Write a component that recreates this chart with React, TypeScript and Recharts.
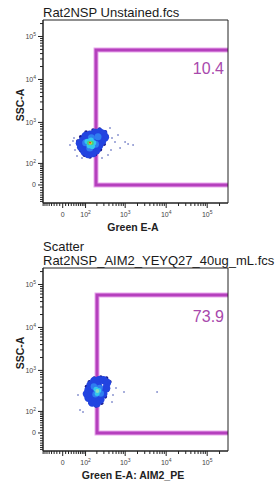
import React from 'react';
import { ScatterChart, Scatter, XAxis, YAxis, ReferenceArea } from 'recharts';

// ---- axis transform (biexponential-like display scale) ----
const X_COFACTOR = 60;
const Y_COFACTOR = 70;
const xDomain: [number, number] = [-0.48, 4.03];
const yDomain: [number, number] = [-0.42, 3.84];

const majorTickValues = [0, 100, 1000, 10000, 100000];
const xMinorTickValues = [
  -80, -70, -60, -50, -40, -30, -20, -10,
  10, 20, 30, 40, 50, 60, 70, 80, 90,
  200, 300, 400, 500, 600, 700, 800, 900,
  2000, 3000, 4000, 5000, 6000, 7000, 8000, 9000,
  20000, 30000, 40000, 50000, 60000, 70000, 80000, 90000,
  200000,
];
const yMinorTickValues = [
  -70, -60, -50, -40, -30, -20, -10,
  10, 20, 30, 40, 50, 60, 70, 80, 90,
  200, 300, 400, 500, 600, 700, 800, 900,
  2000, 3000, 4000, 5000, 6000, 7000, 8000, 9000,
  20000, 30000, 40000, 50000, 60000, 70000, 80000, 90000,
  200000,
];

// ---- panel texts ----
const panel1Title = ['Rat2NSP  Unstained.fcs'];
const panel2Title = ['Scatter', 'Rat2NSP_AIM2_YEYQ27_40ug_mL.fcs'];
const panel1XLabel = 'Green E-A';
const panel2XLabel = 'Green E-A: AIM2_PE';
const yLabel = 'SSC-A';
const gatePercents = ['10.4', '73.9'];

// ---- gates (display units) ----
const panel1Gate = { x1: 0.812, x2: 4.25, y1: 0, y2: 3.14 };
const panel2Gate = { x1: 0.837, x2: 4.25, y1: 0, y2: 3.21 };

// ---- events, display units [Green, SSC] ----
const p1Blue = [
  [0.49, 1.03], [0.56, 1.14], [0.666, 1.17], [0.788, 1.21], [0.90, 1.23],
  [0.99, 1.19], [1.03, 1.11], [0.96, 1.02], [0.89, 0.92], [0.82, 0.81],
  [0.73, 0.74], [0.62, 0.72], [0.53, 0.78], [0.45, 0.88], [0.42, 0.97],
  [0.568, 0.930], [0.715, 0.860], [0.812, 1.047], [0.617, 1.070], [0.715, 1.093],
  [0.885, 1.116],
];
const p1Edge = [
  [0.39, 0.91], [0.44, 0.80], [0.53, 0.69], [0.666, 0.65], [0.80, 0.71],
  [0.92, 0.82], [1.01, 0.95], [1.08, 1.13], [1.04, 1.24], [0.90, 1.30],
  [0.74, 1.28], [0.57, 1.23], [0.44, 1.12], [0.37, 1.02],
];
const p1Mid = [[0.56, 0.98], [0.70, 1.10], [0.80, 0.95], [0.66, 0.86], [0.86, 1.12]];
const p1Cyan = [[0.60, 1.01], [0.69, 1.04], [0.75, 0.98], [0.65, 0.92], [0.72, 0.90]];
const p1Green = [[0.645, 0.977], [0.705, 0.977]];
const p1Yellow = [[0.672, 0.977]];
const p1Red = [[0.666, 0.985]];
const p1Sparse = [
  [0.178, 0.930], [0.251, 1.023], [0.276, 1.093], [0.300, 0.814], [0.349, 0.674],
  [1.105, 0.698], [1.178, 0.814], [1.202, 1.093], [1.276, 1.000], [1.349, 1.163],
  [1.398, 0.860], [1.520, 1.000], [1.593, 0.953], [1.715, 0.930], [0.959, 0.628],
  [1.154, 1.326], [0.471, 0.628],
];

const p2Blue = [
  [0.63, 1.00], [0.68, 1.12], [0.77, 1.21], [0.885, 1.23], [0.99, 1.23],
  [1.08, 1.17], [1.06, 1.04], [0.99, 0.91], [0.92, 0.78], [0.83, 0.69],
  [0.72, 0.71], [0.63, 0.82], [0.59, 0.91], [0.739, 0.953], [0.861, 1.093],
  [0.910, 0.953], [0.788, 0.837],
];
const p2Edge = [
  [0.56, 0.95], [0.59, 0.80], [0.67, 0.69], [0.81, 0.63], [0.95, 0.69],
  [1.04, 0.84], [1.10, 1.00], [1.15, 1.19], [1.07, 1.28], [0.93, 1.30],
  [0.77, 1.28], [0.65, 1.19], [0.58, 1.08],
];
const p2Mid = [[0.76, 1.08], [0.90, 1.05], [0.80, 0.90], [0.93, 0.92]];
const p2Cyan = [[0.81, 1.02], [0.88, 0.99], [0.84, 0.92]];
const p2Green = [[0.845, 0.977]];
const p2Sparse = [
  [0.422, 0.535], [0.495, 0.488], [1.227, 0.884], [1.300, 1.047], [1.495, 0.953],
  [2.300, 0.953], [1.202, 0.721], [0.373, 0.884],
];

const biex = (v: number, c: number) => Math.asinh(v / c) / Math.LN10;

type TickInfo = { pos: number; major: boolean; raw: number };
const buildTicks = (minors: number[], c: number): TickInfo[] => [
  ...majorTickValues.map((v) => ({ pos: biex(v, c), major: true, raw: v })),
  ...minors.map((v) => ({ pos: biex(v, c), major: false, raw: v })),
];
const xTickInfo = buildTicks(xMinorTickValues, X_COFACTOR);
const yTickInfo = buildTicks(yMinorTickValues, Y_COFACTOR);

const toPts = (arr: number[][]) => arr.map(([x, y]) => ({ x, y }));

const FONT = '"Liberation Sans", Arial, sans-serif';

const TickLabel = ({ raw, x, y, anchor }: { raw: number; x: number; y: number; anchor: string }) => {
  if (raw === 0)
    return (
      <text x={x} y={y} textAnchor={anchor as any} fontSize={7} fill="#444" fontFamily={FONT}>
        0
      </text>
    );
  const k = Math.round(Math.log10(raw));
  return (
    <text x={x} y={y} textAnchor={anchor as any} fontSize={7} fill="#444" fontFamily={FONT}>
      <tspan>10</tspan>
      <tspan dy={-3} fontSize={5}>
        {k}
      </tspan>
    </text>
  );
};

const findTick = (list: TickInfo[], v: number) => list.find((t) => Math.abs(t.pos - v) < 1e-7);

const XTick = (props: any) => {
  const { x, y, payload } = props;
  const t = findTick(xTickInfo, payload.value);
  if (!t) return <g />;
  return (
    <g>
      <line x1={x} x2={x} y1={y} y2={y + (t.major ? 5 : 3)} stroke="#222" strokeWidth={1} />
      {t.major && <TickLabel raw={t.raw} x={x} y={y + 14} anchor="middle" />}
    </g>
  );
};

const YTick = (props: any) => {
  const { x, y, payload } = props;
  const t = findTick(yTickInfo, payload.value);
  if (!t) return <g />;
  return (
    <g>
      <line x1={x} x2={x - (t.major ? 5 : 3)} y1={y} y2={y} stroke="#222" strokeWidth={1} />
      {t.major && <TickLabel raw={t.raw} x={x - 7} y={y + 2.5} anchor="end" />}
    </g>
  );
};

const dot = (r: number, fill: string) => (p: any) => <circle cx={p.cx} cy={p.cy} r={r} fill={fill} />;

type Layer = { data: number[][]; r: number; color: string };

const Panel = ({
  top,
  titles,
  xLabel,
  layers,
  gate,
  percent,
}: {
  top: number;
  titles: string[];
  xLabel: string;
  layers: Layer[];
  gate: { x1: number; x2: number; y1: number; y2: number };
  percent: string;
}) => {
  const plotTop = top + 20;
  const plotBottom = top + 203;
  return (
    <>
      {titles.map((t, i) => (
        <div
          key={i}
          style={{
            position: 'absolute',
            left: 43,
            top: plotTop - 14.5 - (titles.length - 1 - i) * 14,
            fontFamily: FONT,
            fontSize: 13,
            lineHeight: '14px',
            color: '#1a1a1a',
            whiteSpace: 'nowrap',
          }}
        >
          {t}
        </div>
      ))}
      <div style={{ position: 'absolute', left: 0, top, width: 278, height: 240 }}>
        <ScatterChart width={278} height={240} margin={{ top: 20, right: 50, bottom: 0, left: 0 }}>
          <XAxis
            type="number"
            dataKey="x"
            domain={xDomain}
            allowDataOverflow
            ticks={xTickInfo.map((t) => t.pos)}
            interval={0}
            tick={<XTick />}
            tickLine={false}
            tickSize={0}
            tickMargin={0}
            height={37}
            axisLine={{ stroke: '#222' }}
          />
          <YAxis
            type="number"
            dataKey="y"
            domain={yDomain}
            allowDataOverflow
            ticks={yTickInfo.map((t) => t.pos)}
            interval={0}
            tick={<YTick />}
            tickLine={false}
            tickSize={0}
            tickMargin={0}
            width={43}
            axisLine={{ stroke: '#222' }}
          />
          {layers.map((l, i) => (
            <Scatter key={i} data={toPts(l.data)} isAnimationActive={false} shape={dot(l.r, l.color)} />
          ))}
          <ReferenceArea
            x1={gate.x1}
            x2={gate.x2}
            y1={gate.y1}
            y2={gate.y2}
            ifOverflow="hidden"
            fill="none"
            stroke="#e9a8ec"
            strokeWidth={5}
          />
          <ReferenceArea
            x1={gate.x1}
            x2={gate.x2}
            y1={gate.y1}
            y2={gate.y2}
            ifOverflow="hidden"
            fill="none"
            stroke="#b540bd"
            strokeWidth={3}
          />
          <ReferenceArea
            x1={xDomain[0]}
            x2={xDomain[1]}
            y1={yDomain[0]}
            y2={yDomain[1]}
            ifOverflow="visible"
            fill="none"
            stroke="#222"
            strokeWidth={1}
          />
        </ScatterChart>
      </div>
      <div
        style={{
          position: 'absolute',
          left: 120,
          width: 104,
          top: plotTop + 48.5 - 9,
          textAlign: 'right',
          fontFamily: FONT,
          fontSize: 16,
          lineHeight: '18px',
          color: '#a848ac',
        }}
      >
        {percent}
      </div>
      <div
        style={{
          position: 'absolute',
          left: 33,
          width: 200,
          top: plotBottom + 24 - 6,
          textAlign: 'center',
          fontFamily: FONT,
          fontSize: 10.5,
          fontWeight: 'bold',
          lineHeight: '12px',
          color: '#222',
          whiteSpace: 'nowrap',
        }}
      >
        {xLabel}
      </div>
      <div
        style={{
          position: 'absolute',
          left: 20 - 30,
          width: 60,
          top: plotTop + 85 - 6,
          textAlign: 'center',
          fontFamily: FONT,
          fontSize: 10.5,
          fontWeight: 'bold',
          lineHeight: '12px',
          color: '#222',
          transform: 'rotate(-90deg)',
        }}
      >
        {yLabel}
      </div>
    </>
  );
};

const BLUE = '#2244e0';
const NAVY = '#1a1a8a';
const MID = '#2f7df0';
const CYAN = '#34c8ec';

const panel1Layers: Layer[] = [
  { data: p1Sparse, r: 0.75, color: '#2a3aa8' },
  { data: p1Edge, r: 1.8, color: NAVY },
  { data: p1Blue, r: 4.2, color: BLUE },
  { data: p1Mid, r: 3.5, color: MID },
  { data: p1Cyan, r: 2.8, color: CYAN },
  { data: p1Green, r: 2.2, color: '#4cd078' },
  { data: p1Yellow, r: 1.5, color: '#f0e040' },
  { data: p1Red, r: 0.9, color: '#e02020' },
];
const panel2Layers: Layer[] = [
  { data: p2Sparse, r: 0.75, color: '#2a3aa8' },
  { data: p2Edge, r: 1.8, color: NAVY },
  { data: p2Blue, r: 4.2, color: BLUE },
  { data: p2Mid, r: 3.2, color: MID },
  { data: p2Cyan, r: 2.5, color: CYAN },
  { data: p2Green, r: 2, color: '#8adcc0' },
];

export default function App() {
  return (
    <div style={{ position: 'absolute', left: 0, top: 0, width: 278, height: 488, background: '#fff', overflow: 'hidden' }}>
      <Panel
        top={0}
        titles={panel1Title}
        xLabel={panel1XLabel}
        layers={panel1Layers}
        gate={panel1Gate}
        percent={gatePercents[0]}
      />
      <Panel
        top={248}
        titles={panel2Title}
        xLabel={panel2XLabel}
        layers={panel2Layers}
        gate={panel2Gate}
        percent={gatePercents[1]}
      />
    </div>
  );
}
